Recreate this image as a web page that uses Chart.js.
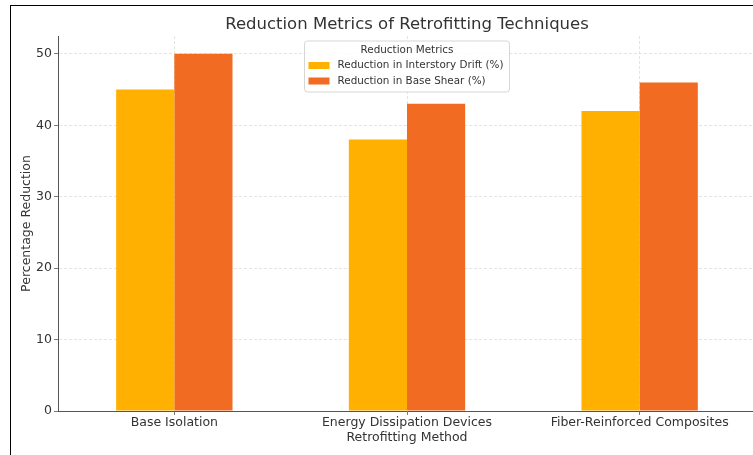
<!DOCTYPE html>
<html>
<head>
<meta charset="utf-8">
<script src="https://cdn.jsdelivr.net/npm/chart.js@4.4.0/dist/chart.umd.min.js"></script>
<style>
  html, body { margin: 0; padding: 0; background: #fff; overflow: hidden; width: 753px; height: 455px; }
  #frame { position: absolute; left: 10px; top: 5px; width: 800px; height: 500px;
           border-left: 1px solid #000; border-top: 1px solid #000; }
  #wrap { position: absolute; left: 0; top: 0; width: 756px; height: 455px; }
</style>
</head>
<body>
<div id="frame"></div>
<div id="wrap"><canvas id="myChart" width="756" height="455"></canvas></div>
<script>
const categories = ['Base Isolation', 'Energy Dissipation Devices', 'Fiber-Reinforced Composites'];
const driftReduction = [45, 38, 42];
const shearReduction = [50, 43, 46];
const yTicks = [0, 10, 20, 30, 40, 50];
const seriesNames = ['Reduction in Interstory Drift (%)', 'Reduction in Base Shear (%)'];
const chartTitle = 'Reduction Metrics of Retrofitting Techniques';
const legendTitle = 'Reduction Metrics';

const FONT = "'DejaVu Sans', sans-serif";

// title + matplotlib style legend drawn over the chart area
const overlay = {
  id: 'overlay',
  afterDraw(chart) {
    const ctx = chart.ctx;
    const area = chart.chartArea;
    const cx = (area.left + area.right) / 2;
    ctx.save();
    ctx.fillStyle = '#333';
    ctx.font = '16.5px ' + FONT;
    ctx.textAlign = 'center';
    ctx.textBaseline = 'middle';
    ctx.fillText(chartTitle, cx, 24.5);

    const w = 205, h = 51;
    const x0 = cx - w / 2, y0 = 41;
    ctx.beginPath();
    ctx.roundRect(x0, y0, w, h, 3);
    ctx.fillStyle = 'rgba(255,255,255,0.85)';
    ctx.fill();
    ctx.strokeStyle = '#d6d6d6';
    ctx.lineWidth = 1;
    ctx.stroke();

    ctx.font = '10.4px ' + FONT;
    ctx.fillStyle = '#333';
    ctx.fillText(legendTitle, cx, y0 + 9);
    ctx.textAlign = 'left';
    chart.data.datasets.forEach((ds, i) => {
      const yy = y0 + 24.5 + i * 15.5;
      ctx.fillStyle = ds.backgroundColor;
      ctx.fillRect(x0 + 4, yy - 3.5, 21, 7);
      ctx.fillStyle = '#333';
      ctx.fillText(ds.label, x0 + 33, yy);
    });
    ctx.restore();
  }
};

const ctx = document.getElementById('myChart');
new Chart(ctx, {
  type: 'bar',
  data: {
    labels: categories,
    datasets: [{
      label: seriesNames[0],
      data: driftReduction,
      backgroundColor: '#FFB000',
      categoryPercentage: 0.5,
      barPercentage: 1.0
    }, {
      label: seriesNames[1],
      data: shearReduction,
      backgroundColor: '#F26B22',
      categoryPercentage: 0.5,
      barPercentage: 1.0
    }]
  },
  options: {
    responsive: false,
    animation: false,
    layout: { padding: { top: 36, left: 0, right: 0, bottom: 0 } },
    plugins: {
      legend: { display: false },
      title: { display: false },
      tooltip: { enabled: false }
    },
    scales: {
      x: {
        offset: true,
        grid: { offset: false, color: '#dddddd', lineWidth: 0.8, tickLength: 4, tickColor: '#555' },
        border: { display: true, color: '#555', width: 1, dash: [3, 2] },
        ticks: { color: '#333', font: { family: FONT, size: 12.5 }, padding: 0, maxRotation: 0 },
        title: { display: true, text: 'Retrofitting Method', color: '#333',
                 font: { family: FONT, size: 12.5 }, padding: { top: 0, bottom: 10 } },
        afterFit(s) { s.height = 44; }
      },
      y: {
        min: 0,
        max: 52.5,
        grid: { color: '#dddddd', lineWidth: 0.8, tickLength: 4, tickColor: '#555' },
        border: { display: true, color: '#555', width: 1, dash: [3, 2] },
        ticks: { color: '#333', font: { family: FONT, size: 12.5 }, padding: 2 },
        afterBuildTicks(s) { s.ticks = yTicks.map(v => ({ value: v })); },
        title: { display: true, text: 'Percentage Reduction', color: '#333',
                 font: { family: FONT, size: 12.5 }, padding: { top: 19, bottom: 0 } },
        afterFit(s) { s.width = 58; }
      }
    }
  },
  plugins: [overlay]
});
</script>
</body>
</html>
